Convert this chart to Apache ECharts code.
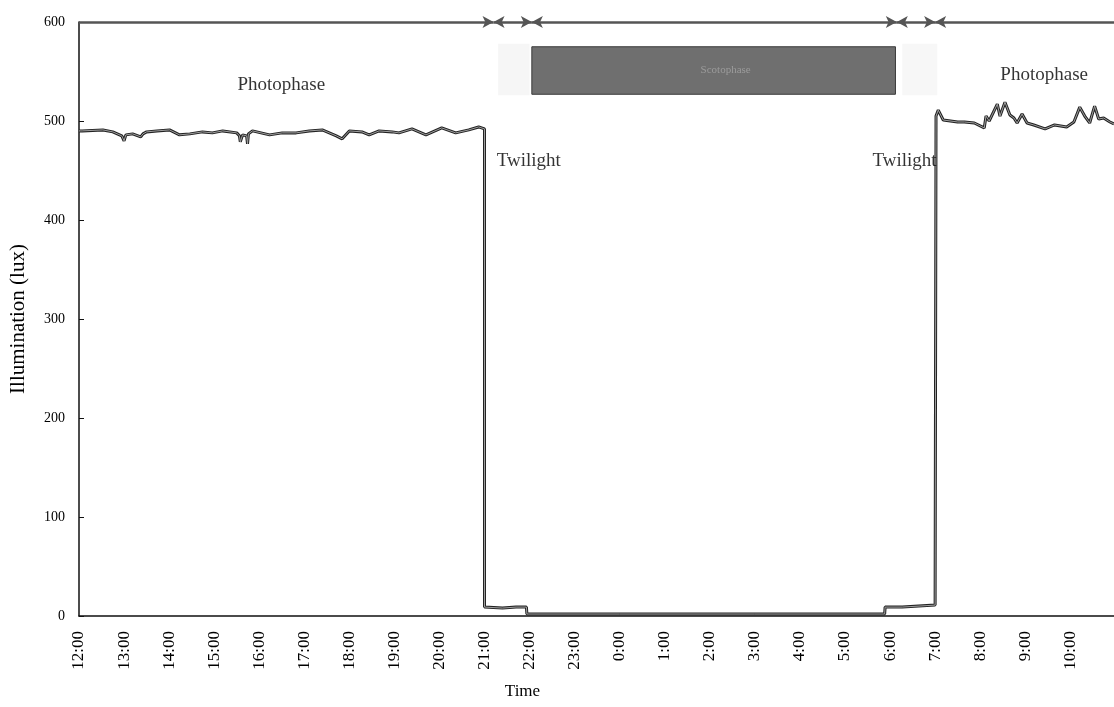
<!DOCTYPE html>
<html>
<head>
<meta charset="utf-8">
<script src="https://cdn.jsdelivr.net/npm/echarts@6/dist/echarts.min.js"></script>
<style>html,body{margin:0;padding:0;background:#fff}#c{width:1114px;height:707px}</style>
</head>
<body>
<div id="c"></div>
<script>
// Hours after 12:00
var hours = [0,0.07,0.53,0.75,0.95,1.0,1.04,1.19,1.37,1.42,1.5,1.73,2.01,2.23,2.46,2.74,2.96,3.19,3.5,3.56,3.58,3.63,3.72,3.74,3.76,3.85,4.23,4.51,4.82,5.11,5.4,5.71,5.84,6.0,6.28,6.44,6.66,6.95,7.1,7.39,7.7,8.05,8.36,8.65,8.87,9.0,
  9.0,9.4,9.7,9.93,9.94,12,15,17.88,17.89,18.27,18.28,19.0,
  19.02,19.07,19.18,19.5,19.65,19.87,20.09,20.13,20.2,20.38,20.44,20.55,20.66,20.75,20.82,20.93,21.04,21.19,21.44,21.65,21.92,22.08,22.21,22.32,22.43,22.54,22.63,22.74,22.88,22.97];
var lux = [490,490,491,489,485,480,486,487,484,487,489,490,491,486,487,489,488,490,488,485,479,486,485,477,487,490,486,488,488,490,491,485,482,490,489,486,490,489,488,492,486,493,488,491,494,492,
  9,8,9,9,2,2,2,2,9,9,11,11,
  505,511,501,499,499,498,493,505,500,517,505,519,506,503,498,507,498,496,492,496,494,499,514,505,498,515,502,503,499,497];

var xTickLabels = ['12:00','13:00','14:00','15:00','16:00','17:00','18:00','19:00','20:00','21:00','22:00','23:00','0:00','1:00','2:00','3:00','4:00','5:00','6:00','7:00','8:00','9:00','10:00'];

// top arrow segments (hours)
var arrowStarts = [0, 9.2, 10.05, 18.15, 19.0];
var arrowEnds   = [9.2, 10.05, 18.15, 19.0, 22.97];

var annoText = ['Photophase','Twilight','Twilight','Photophase'];
var annoX = [4.49, 9.98, 18.32, 21.42];
var annoY = [536, 460, 460, 546];

var boxX = [10.05, 18.12];
var boxY = [527, 575];
var boxText = 'Scotophase';
var twilightShadeX = [[9.3, 10.0], [18.27, 19.05]];

var data = hours.map(function(h, i){ return [h, lux[i]]; });
var font = 'Liberation Serif';

var segs = arrowStarts.map(function(s, i){
  return [{coord:[s,600], symbol: i===0 ? 'none' : 'arrow'}, {coord:[arrowEnds[i],600], symbol: i===arrowStarts.length-1 ? 'none' : 'arrow'}];
});

var chart = echarts.init(document.getElementById('c'));
chart.setOption({
  animation: false,
  backgroundColor: '#fff',
  grid: {left: 79, right: 0, top: 22, bottom: 91, containLabel: false},
  xAxis: {
    type: 'value', min: 0, max: 22.97, interval: 1,
    name: 'Time', nameLocation: 'middle', nameGap: 67,
    nameTextStyle: {fontFamily: font, fontSize: 17, color: '#000', padding: [0, 148, 0, 0]},
    axisLine: {lineStyle: {color: '#111', width: 1.5}},
    axisTick: {show: false},
    splitLine: {show: false},
    axisLabel: {
      rotate: 90, margin: 15, fontFamily: font, fontSize: 17, color: '#000',
      formatter: function(v){ return (Math.abs(v - Math.round(v)) < 1e-6 && xTickLabels[Math.round(v)]) ? xTickLabels[Math.round(v)] : ''; }
    }
  },
  yAxis: {
    type: 'value', min: 0, max: 600, interval: 100,
    name: 'Illumination (lux)', nameLocation: 'middle', nameGap: 50,
    nameTextStyle: {fontFamily: font, fontSize: 21, color: '#000'},
    axisLine: {show: true, lineStyle: {color: '#111', width: 1.5}},
    axisTick: {show: true, inside: true, length: 5, lineStyle: {color: '#111'}},
    splitLine: {show: false},
    axisLabel: {fontFamily: font, fontSize: 14, color: '#000', margin: 14}
  },
  series: [
    {
      type: 'line', data: data, symbol: 'none', z: 3,
      lineStyle: {color: '#222', width: 3},
      markArea: {
        silent: true,
        data: [
          [{xAxis: twilightShadeX[0][0], yAxis: 526, itemStyle: {color: 'rgba(0,0,0,0.035)'}}, {xAxis: twilightShadeX[0][1], yAxis: 578}],
          [{xAxis: twilightShadeX[1][0], yAxis: 526, itemStyle: {color: 'rgba(0,0,0,0.03)'}}, {xAxis: twilightShadeX[1][1], yAxis: 578}],
          [{xAxis: boxX[0], yAxis: boxY[0], name: boxText,
            itemStyle: {color: '#6f6f6f', borderColor: '#3a3a3a', borderWidth: 1},
            label: {show: true, position: 'inside', offset: [12, 0], color: '#9b9b9b', fontFamily: font, fontSize: 11}},
           {xAxis: boxX[1], yAxis: boxY[1]}]
        ]
      },
      markLine: {
        silent: true, symbolSize: [9, 11],
        lineStyle: {color: '#555', width: 2.5, type: 'solid'},
        label: {show: false},
        data: segs
      }
    },
    {
      type: 'line', data: data, symbol: 'none', z: 4,
      lineStyle: {color: '#a0a0a0', width: 1}
    },
    {
      type: 'scatter', symbolSize: 0, z: 5,
      data: annoText.map(function(t, i){ return {value: [annoX[i], annoY[i]], name: t}; }),
      label: {show: true, position: 'inside', formatter: '{b}', fontFamily: font, fontSize: 19, color: '#000'}
    }
  ]
});
</script>
</body>
</html>
